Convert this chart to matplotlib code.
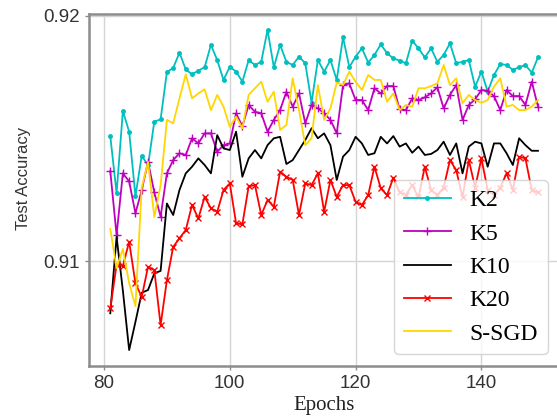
import matplotlib.pyplot as plt
import numpy as np

# test accuracy per epoch
epochs = np.arange(81, 150)

k2 = [0.91510, 0.91277, 0.91612, 0.91528, 0.91265, 0.91430, 0.91390, 0.91569, 0.91578, 0.91771,
      0.91788, 0.91850, 0.91782, 0.91762, 0.91777, 0.91791, 0.91882, 0.91820, 0.91739, 0.91793,
      0.91773, 0.91732, 0.91820, 0.91800, 0.91813, 0.91943, 0.91791, 0.91882, 0.91813, 0.91800,
      0.91834, 0.91807, 0.91646, 0.91820, 0.91773, 0.91820, 0.91739, 0.91913, 0.91791, 0.91834,
      0.91868, 0.91810, 0.91841, 0.91884, 0.91848, 0.91827, 0.91818, 0.91807, 0.91899, 0.91868,
      0.91831, 0.91868, 0.91813, 0.91841, 0.91888, 0.91807, 0.91813, 0.91820, 0.91711, 0.91773,
      0.91691, 0.91759, 0.91804, 0.91800, 0.91780, 0.91791, 0.91800, 0.91769, 0.91831]

k5 = [0.91367, 0.91106, 0.91358, 0.91325, 0.91195, 0.91290, 0.91405, 0.91280, 0.91181, 0.91358,
      0.91412, 0.91440, 0.91433, 0.91501, 0.91480, 0.91521, 0.91521, 0.91446, 0.91473, 0.91480,
      0.91603, 0.91550, 0.91637, 0.91609, 0.91603, 0.91528, 0.91576, 0.91616, 0.91691, 0.91630,
      0.91684, 0.91562, 0.91637, 0.91623, 0.91603, 0.91576, 0.91521, 0.91718, 0.91725, 0.91657,
      0.91657, 0.91616, 0.91705, 0.91684, 0.91714, 0.91714, 0.91619, 0.91616, 0.91664, 0.91657,
      0.91668, 0.91684, 0.91709, 0.91623, 0.91678, 0.91718, 0.91576, 0.91637, 0.91660, 0.91698,
      0.91695, 0.91673, 0.91616, 0.91698, 0.91673, 0.91673, 0.91637, 0.91732, 0.91630]

k10 = [0.90787, 0.91099, 0.90880, 0.90637, 0.90752, 0.90871, 0.90882, 0.90950, 0.90960, 0.91235,
       0.91188, 0.91290, 0.91358, 0.91385, 0.91419, 0.91392, 0.91358, 0.91514, 0.91460, 0.91453,
       0.91528, 0.91344, 0.91419, 0.91453, 0.91419, 0.91473, 0.91501, 0.91507, 0.91396, 0.91412,
       0.91453, 0.91494, 0.91542, 0.91501, 0.91521, 0.91473, 0.91331, 0.91426, 0.91453, 0.91507,
       0.91480, 0.91433, 0.91440, 0.91507, 0.91480, 0.91510, 0.91467, 0.91480, 0.91442, 0.91467,
       0.91433, 0.91437, 0.91453, 0.91487, 0.91433, 0.91480, 0.91358, 0.91467, 0.91487, 0.91480,
       0.91385, 0.91480, 0.91480, 0.91440, 0.91392, 0.91501, 0.91473, 0.91450, 0.91450]

k20 = [0.90807, 0.90984, 0.90980, 0.91079, 0.90909, 0.90854, 0.90977, 0.90963, 0.90739, 0.90922,
       0.91058, 0.91093, 0.91127, 0.91229, 0.91174, 0.91262, 0.91215, 0.91201, 0.91290, 0.91317,
       0.91154, 0.91150, 0.91305, 0.91310, 0.91188, 0.91249, 0.91222, 0.91365, 0.91344, 0.91331,
       0.91188, 0.91317, 0.91310, 0.91358, 0.91201, 0.91331, 0.91262, 0.91310, 0.91310, 0.91242,
       0.91229, 0.91269, 0.91385, 0.91297, 0.91269, 0.91340, 0.91280, 0.91270, 0.91310, 0.91260,
       0.91385, 0.91290, 0.91270, 0.91300, 0.91412, 0.91371, 0.91260, 0.91412, 0.91300, 0.91419,
       0.91290, 0.91270, 0.91300, 0.91358, 0.91290, 0.91426, 0.91419, 0.91290, 0.91280]

ssgd = [0.91131, 0.90971, 0.91050, 0.90910, 0.90816, 0.91300, 0.91405, 0.91180, 0.91310, 0.91576,
        0.91562, 0.91664, 0.91762, 0.91664, 0.91684, 0.91701, 0.91616, 0.91678, 0.91630, 0.91548,
        0.91589, 0.91542, 0.91678, 0.91705, 0.91732, 0.91650, 0.91691, 0.91535, 0.91555, 0.91746,
        0.91616, 0.91473, 0.91501, 0.91718, 0.91576, 0.91623, 0.91728, 0.91718, 0.91773, 0.91732,
        0.91698, 0.91759, 0.91739, 0.91739, 0.91650, 0.91684, 0.91616, 0.91637, 0.91630, 0.91705,
        0.91705, 0.91714, 0.91725, 0.91800, 0.91718, 0.91746, 0.91644, 0.91678, 0.91657, 0.91646,
        0.91657, 0.91711, 0.91746, 0.91630, 0.91637, 0.91616, 0.91616, 0.91630, 0.91657]

xticks = [80, 100, 120, 140]
yticks = [0.91, 0.92]

serif = 'Liberation Serif'
sans = 'Liberation Sans'

fig = plt.figure(figsize=(5.57, 4.18), dpi=100)
ax = fig.add_axes([0.1596, 0.1244, 0.8447, 0.8421])

ax.plot(epochs, k2, color='c', marker='.', ms=5, lw=1.3, label='K2')
ax.plot(epochs, k5, color='m', marker='+', ms=6, lw=1.3, label='K5')
ax.plot(epochs, k10, color='k', lw=1.3, label='K10')
ax.plot(epochs, k20, color='r', marker='x', ms=5, lw=1.3, label='K20')
ax.plot(epochs, ssgd, color='gold', lw=1.3, label='S-SGD')

ax.set_xlim(77.6, 152.4)
ax.set_ylim(0.90572, 0.92008)
ax.set_xticks(xticks)
ax.set_yticks(yticks)
ax.grid(color='#d4d4d4', lw=1)
ax.set_axisbelow(True)

for s in ax.spines.values():
    s.set_color('#8c8c8c')
    s.set_linewidth(1.8)

ax.tick_params(colors='#8c8c8c', labelcolor='#333333', labelsize=13.5, length=3, width=1)
for lab in ax.get_xticklabels() + ax.get_yticklabels():
    lab.set_family(sans)

ax.set_xlabel('Epochs', family=serif, fontsize=15, color='#222222', labelpad=3)
ax.set_ylabel('Test Accuracy', family=sans, fontsize=12, color='#333333')
ax.yaxis.set_label_coords(-0.140, 0.533)
ax.yaxis.label.set_verticalalignment('center')

ax.legend(loc='lower right', prop={'family': serif, 'size': 17})

plt.savefig('out.png', dpi=100)
